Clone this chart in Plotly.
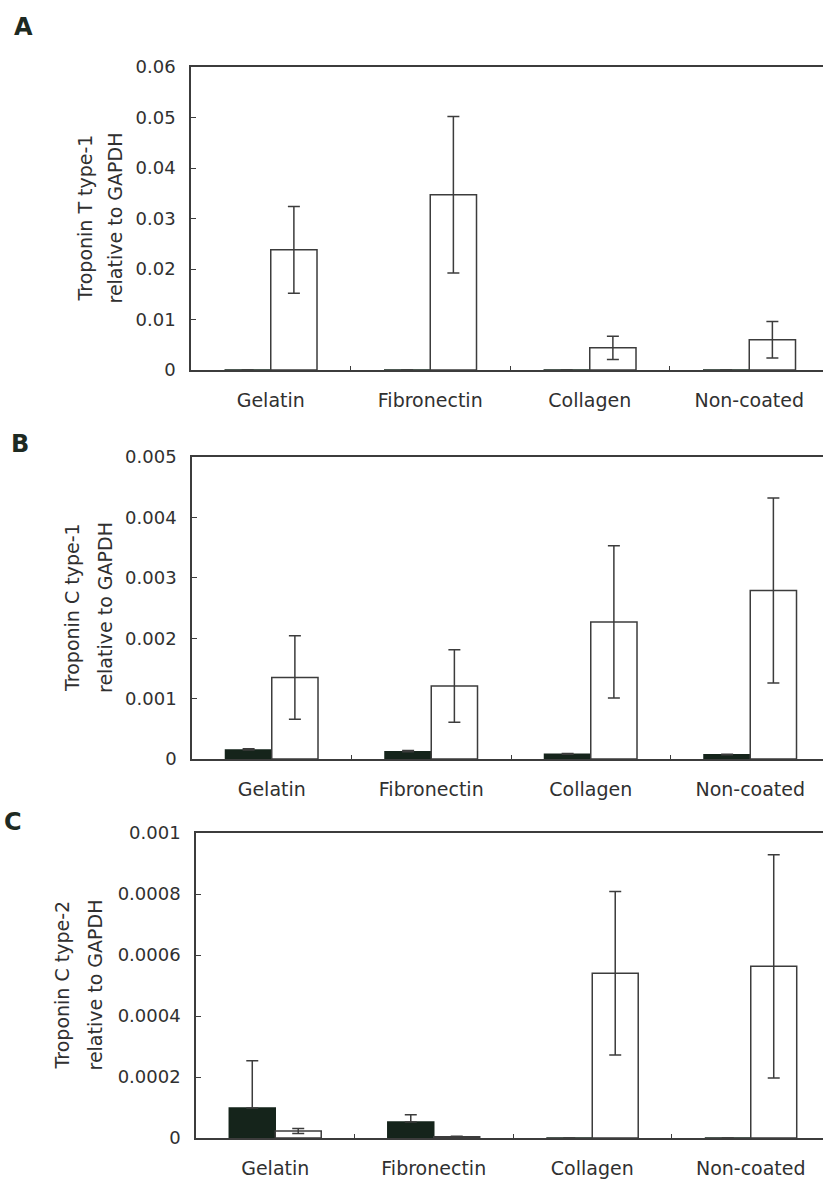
import plotly.graph_objects as go

categories = ["Gelatin", "Fibronectin", "Collagen", "Non-coated"]

a_black = [0, 0, 0, 0]
a_black_err = [0, 0, 0, 0]
a_white = [0.0238, 0.0347, 0.0044, 0.0060]
a_white_err = [0.0086, 0.0155, 0.0023, 0.0036]

b_black = [0.00015, 0.00012, 0.00008, 0.00007]
b_black_err = [0.00002, 0.00002, 0.00001, 0.00001]
b_white = [0.00135, 0.00121, 0.00227, 0.00279]
b_white_err = [0.00069, 0.00060, 0.00126, 0.00153]

c_black = [0.0000985, 0.0000525, 0, 0]
c_black_err = [0.000155, 0.000024, 0, 0]
c_white = [0.000023, 0.000004, 0.00054, 0.000563]
c_white_err = [0.000008, 0.000002, 0.000268, 0.000366]

a_ticks = [0, 0.01, 0.02, 0.03, 0.04, 0.05, 0.06]
a_ticktext = ["0", "0.01", "0.02", "0.03", "0.04", "0.05", "0.06"]
b_ticks = [0, 0.001, 0.002, 0.003, 0.004, 0.005]
b_ticktext = ["0", "0.001", "0.002", "0.003", "0.004", "0.005"]
c_ticks = [0, 0.0002, 0.0004, 0.0006, 0.0008, 0.001]
c_ticktext = ["0", "0.0002", "0.0004", "0.0006", "0.0008", "0.001"]

W, H = 823, 1184
FONT = "DejaVu Sans"
TXT = "#303030"
LINE = "#3c3c3c"
BLACK = "#15241b"

panels = [
    dict(letter="A", black=a_black, berr=a_black_err, white=a_white, werr=a_white_err,
         ticks=a_ticks, ticktext=a_ticktext, ymax=0.06,
         left=191, top=67, bottom=370, cw=159.5,
         t1="Troponin T type-1", t2="relative to GAPDH", tx1=85, tx2=115,
         lx=23, ly=27),
    dict(letter="B", black=b_black, berr=b_black_err, white=b_white, werr=b_white_err,
         ticks=b_ticks, ticktext=b_ticktext, ymax=0.005,
         left=192, top=457, bottom=759, cw=159.5,
         t1="Troponin C type-1", t2="relative to GAPDH", tx1=72, tx2=105,
         lx=20, ly=444),
    dict(letter="C", black=c_black, berr=c_black_err, white=c_white, werr=c_white_err,
         ticks=c_ticks, ticktext=c_ticktext, ymax=0.001,
         left=196, top=833, bottom=1138, cw=158.5,
         t1="Troponin C type-2", t2="relative to GAPDH", tx1=61, tx2=94,
         lx=13, ly=822),
]

fig = go.Figure()
annotations = []
layout = {}
for i, p in enumerate(panels):
    sfx = "" if i == 0 else str(i + 1)
    xa, ya = "x" + sfx, "y" + sfx
    series = [
        (p["black"], p["berr"], [0] * len(p["berr"]), BLACK, BLACK),
        (p["white"], p["werr"], p["werr"], "white", LINE),
    ]
    for vals, errs, errs_minus, fill, edge in series:
        fig.add_trace(go.Bar(
            x=categories, y=vals, xaxis=xa, yaxis=ya,
            marker=dict(color=fill, line=dict(color=edge, width=1.5)),
            error_y=dict(type="data", symmetric=False, array=errs, arrayminus=errs_minus,
                         visible=True, color=LINE, thickness=1.5, width=6),
            showlegend=False,
        ))
    upper = -0.5 + (W - p["left"]) / p["cw"]
    layout["xaxis" + sfx] = dict(
        domain=[p["left"] / W, 1], anchor=ya, range=[-0.5, upper], automargin=False,
        showline=True, linecolor=LINE, linewidth=1.5, mirror=True,
        ticks="inside", ticklen=4, tickcolor=LINE, tickson="boundaries",
        tickfont=dict(family=FONT, size=19, color=TXT), ticklabelstandoff=12,
        showgrid=False, zeroline=False, fixedrange=True,
    )
    layout["yaxis" + sfx] = dict(
        domain=[1 - p["bottom"] / H, 1 - p["top"] / H], anchor=xa, automargin=False,
        range=[0, p["ymax"]], tickvals=p["ticks"], ticktext=p["ticktext"],
        showline=True, linecolor=LINE, linewidth=1.5, mirror=False,
        ticks="inside", ticklen=5, tickcolor=LINE,
        tickfont=dict(family=FONT, size=18, color=TXT), ticklabelstandoff=10,
        showgrid=False, zeroline=False, fixedrange=True,
    )
    yc = (p["top"] + p["bottom"]) / 2
    for txt, tx in [(p["t1"], p["tx1"]), (p["t2"], p["tx2"])]:
        annotations.append(dict(
            text=txt, x=tx / W, y=1 - yc / H, xref="paper", yref="paper",
            xanchor="center", yanchor="middle", textangle=-90, showarrow=False,
            font=dict(family=FONT, size=19, color=TXT),
        ))
    annotations.append(dict(
        text="<b>" + p["letter"] + "</b>", x=p["lx"] / W, y=1 - p["ly"] / H,
        xref="paper", yref="paper", xanchor="center", yanchor="middle",
        showarrow=False, font=dict(family=FONT, size=24, color="#1e2a22"),
    ))

fig.update_layout(
    width=W, height=H, margin=dict(l=0, r=0, t=0, b=0, autoexpand=False),
    paper_bgcolor="white", plot_bgcolor="white",
    barmode="group", bargap=0.42, bargroupgap=0,
    annotations=annotations, **layout,
)
fig.write_html(
    "out.html",
    config={"displayModeBar": False},
    post_script="document.body.style.margin='0px';document.body.style.overflow='hidden';",
)
